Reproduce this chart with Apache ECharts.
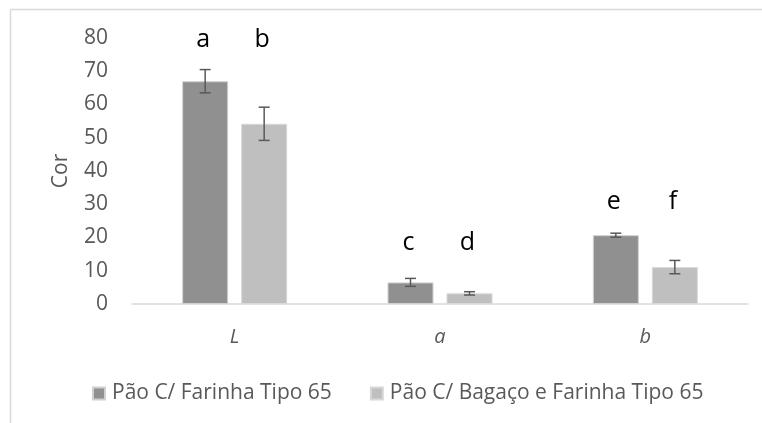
<!DOCTYPE html>
<html><head><meta charset="utf-8">
<script src="https://cdn.jsdelivr.net/npm/echarts@6/dist/echarts.min.js"></script>
<style>html,body{margin:0;padding:0;background:#fff}#c{width:762px;height:423px}</style>
</head><body><div id="c"></div>
<script>
const categories = ['L', 'a', 'b'];
const seriesNames = ['Pão C/ Farinha Tipo 65', 'Pão C/ Bagaço e Farinha Tipo 65'];
const farinhaValues = [67.0, 6.5, 20.7];
const farinhaErrors = [3.5, 1.2, 0.6];
const bagacoValues = [54.2, 3.2, 11.1];
const bagacoErrors = [5.0, 0.5, 2.0];
const farinhaLetters = ['a', 'c', 'e'];
const bagacoLetters = ['b', 'd', 'f'];
const letterLevels = [79.4, 18.3, 30.7];
const yTicks = [0, 10, 20, 30, 40, 50, 60, 70, 80];

const FONT = '"Open Sans", "Noto Sans", sans-serif';
const BAR_W = 46, BAR_GAP = 13;
const colors = ['#909090', '#bfbfbf'];

function errSeries(values, errors, letters, sign) {
  return {
    type: 'custom',
    silent: true,
    z: 10,
    data: values.map((v, i) => [i, v, errors[i], letters[i], letterLevels[i]]),
    renderItem: function (params, api) {
      const i = api.value(0), v = api.value(1), e = api.value(2);
      const off = sign * (BAR_W + BAR_GAP) / 2;
      const top = api.coord([i, v + e]);
      const bot = api.coord([i, v - e]);
      const lt = api.coord([i, api.value(4)]);
      const x = top[0] + off;
      const cap = 5.5;
      const st = { stroke: '#595959', lineWidth: 1.5 };
      return {
        type: 'group',
        children: [
          { type: 'line', shape: { x1: x, y1: top[1], x2: x, y2: bot[1] }, style: st },
          { type: 'line', shape: { x1: x - cap, y1: top[1], x2: x + cap, y2: top[1] }, style: st },
          { type: 'line', shape: { x1: x - cap, y1: bot[1], x2: x + cap, y2: bot[1] }, style: st },
          { type: 'text', style: { text: letters[i], x: x - 2, y: lt[1], align: 'center', verticalAlign: 'middle',
            fill: '#000', font: '25px ' + FONT } }
        ]
      };
    }
  };
}

const chart = echarts.init(document.getElementById('c'), null, { renderer: 'canvas' });
chart.setOption({
  animation: false,
  backgroundColor: '#fff',
  textStyle: { fontFamily: FONT },
  graphic: [
    { type: 'line', shape: { x1: 10.5, y1: 9.5, x2: 762, y2: 9.5 }, style: { stroke: '#d9d9d9', lineWidth: 1.5 } },
    { type: 'line', shape: { x1: 10.5, y1: 9.5, x2: 10.5, y2: 423 }, style: { stroke: '#d9d9d9', lineWidth: 1.5 } }
  ],
  grid: { left: 132, right: 14, top: 38, bottom: 119 },
  legend: {
    left: 87, top: 378,
    itemWidth: 12, itemHeight: 12, itemGap: 38,
    icon: 'rect',
    data: seriesNames,
    textStyle: { fontSize: 21, color: '#595959', fontFamily: FONT, padding: [0, 0, 0, 2] }
  },
  xAxis: {
    type: 'category',
    data: categories,
    axisLine: { lineStyle: { color: '#d9d9d9', width: 1.5 } },
    axisTick: { show: false },
    axisLabel: { fontSize: 20, color: '#595959', fontStyle: 'italic', margin: 23, fontFamily: FONT }
  },
  yAxis: {
    type: 'value',
    min: yTicks[0], max: yTicks[yTicks.length - 1], interval: 10,
    name: 'Cor', nameLocation: 'middle', nameGap: 60,
    nameTextStyle: { fontSize: 21, color: '#595959', fontFamily: FONT },
    axisLine: { show: false },
    axisTick: { show: false },
    splitLine: { show: false },
    axisLabel: { fontSize: 21, color: '#595959', margin: 24, fontFamily: FONT }
  },
  series: [
    { name: seriesNames[0], type: 'bar', data: farinhaValues, barWidth: BAR_W, barGap: (BAR_GAP / BAR_W * 100) + '%',
      itemStyle: { color: colors[0], borderColor: '#d0d0d0', borderWidth: 1 } },
    { name: seriesNames[1], type: 'bar', data: bagacoValues, barWidth: BAR_W,
      itemStyle: { color: colors[1], borderColor: '#d8d8d8', borderWidth: 1 } },
    errSeries(farinhaValues, farinhaErrors, farinhaLetters, -1),
    errSeries(bagacoValues, bagacoErrors, bagacoLetters, 1)
  ]
});
</script></body></html>
